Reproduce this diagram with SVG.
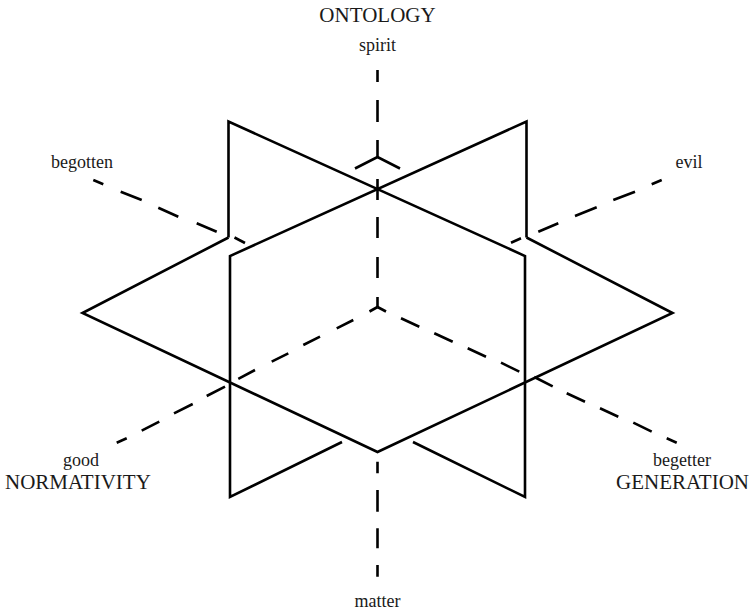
<svg xmlns="http://www.w3.org/2000/svg" width="754" height="613" viewBox="0 0 754 613">
<style>
.edge{fill:none;stroke:#000;stroke-width:2.6;stroke-linejoin:miter;stroke-linecap:butt}
.dash{fill:none;stroke:#000;stroke-width:2.6;stroke-linecap:butt;stroke-linejoin:miter}
.lbl{font-family:"Liberation Serif","Times New Roman",serif;font-size:18px;fill:#1a1a1a;text-anchor:middle}
.cap{font-family:"Liberation Serif","Times New Roman",serif;font-size:21px;fill:#1a1a1a}
</style>
<rect width="754" height="613" fill="#fff"/>
<g id="planes">
  <g id="plane-generation">
    <path class="edge" d="M228.5,237.5 L228.5,121.5 L525,256 L525,497 L413,442"/>
  </g>
  <g id="plane-normativity">
    <path class="edge" d="M526.5,237.5 L526.5,121.5 L230,256 L230,497 L342,442"/>
  </g>
  <g id="plane-ontology">
    <path class="edge" d="M228.5,237.5 L82.5,313 L377.5,452 L672.5,313 L526.5,237.5"/>
    <path class="edge" d="M355,168.5 L377.5,157 L400,168.5"/>
  </g>
</g>
<g id="connectors">
  <path id="axis-spirit" class="dash" d="M377.5,70 V82 M377.5,100 V122 M377.5,140 V157 M377.5,179 V200 M377.5,217 V238 M377.5,257 V278 M377.5,297 V307"/>
  <path id="axis-good" class="dash" d="M377.5,307 L369.5,311.5 M353.3,320 L336.7,328.3 M320,336.7 L303.3,345 M288.3,353.3 L271.7,361.7 M255,370 L238.3,378.8 M225,386.7 L206.7,396 M192.7,404 L174,413.3 M159.3,421.7 L141.7,430.7 M126.7,438.3 L116.7,442.7"/>
  <path id="axis-begetter" class="dash" d="M377.5,307 L386,311.5 M401,318.3 L419.3,326.7 M434.3,333.3 L452.7,341.7 M467.7,348.3 L486,356.7 M501,362.7 L519.3,371.7 M534.3,377 L552.7,386.3 M566.7,393.3 L585,401.7 M600,408.3 L618.3,416.7 M633.3,422.7 L651.7,431.7 M666.7,438.3 L676.7,442.7"/>
  <path id="axis-begotten" class="dash" d="M93.3,180 L103.3,184.3 M120.7,191.7 L141.7,200 M158.3,207.7 L178.3,216.7 M196.7,223.3 L216.7,231.7 M234.5,237.5 L245,243"/>
  <path id="axis-evil" class="dash" d="M661.7,180 L651.7,184.3 M635,191.7 L613.3,200 M596.7,207.3 L575,216 M558.3,223.3 L538.3,231.7 M521,238.3 L511,242.7"/>
  <path id="axis-matter" class="dash" d="M377.5,461.7 V473.3 M377.5,490 V511.7 M377.5,528.3 V548.3 M377.5,565 V576.7"/>
</g>
<g id="label-ontology"><text class="cap" x="377.5" y="22" text-anchor="middle">ONTOLOGY</text></g>
<g id="label-spirit"><text class="lbl" x="377.5" y="51">spirit</text></g>
<g id="label-begotten"><text class="lbl" x="82" y="167.5">begotten</text></g>
<g id="label-evil"><text class="lbl" x="689" y="167.5">evil</text></g>
<g id="label-good"><text class="lbl" x="81" y="466">good</text></g>
<g id="label-begetter"><text class="lbl" x="682" y="466">begetter</text></g>
<g id="label-matter"><text class="lbl" x="377.5" y="607">matter</text></g>
<g id="label-normativity"><text class="cap" x="5" y="489">NORMATIVITY</text></g>
<g id="label-generation"><text class="cap" x="749" y="489" text-anchor="end">GENERATION</text></g>
</svg>
